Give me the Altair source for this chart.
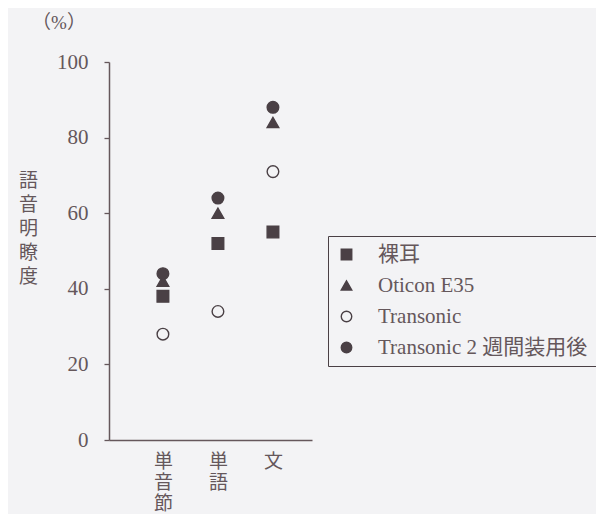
import altair as alt
import pandas as pd

categories = ["単音節", "単語", "文"]
series = ["裸耳", "Oticon E35", "Transonic", "Transonic 2 週間装用後"]
values_hadaka = [38, 52, 55]
values_oticon = [42, 60, 84]
values_transonic = [28, 34, 71]
values_transonic2w = [44, 64, 88]
y_ticks = [0, 20, 40, 60, 80, 100]

rows = []
for s, vals in zip(series, [values_hadaka, values_oticon, values_transonic, values_transonic2w]):
    for c, v in zip(categories, vals):
        rows.append({"cat": c, "series": s, "value": v})
df = pd.DataFrame(rows)

INK = "#4a4045"
AXIS = "#65575b"
BG = "#f3f3f5"
FONT = "Liberation Serif, Noto Sans CJK JP"
FS = 19

points = alt.Chart(df).mark_point(filled=False, strokeWidth=1.4, size=135, opacity=1).encode(
    x=alt.X("cat:N", sort=categories,
            scale=alt.Scale(type="point", padding=0.845, align=0.58),
            axis=alt.Axis(title=None, ticks=False, labelAngle=0, labelFont=FONT, labelFontSize=FS,
                          labelColor=AXIS, labelPadding=12, labelLineHeight=21,
                          labelExpr="split(datum.label, '')", domainColor=AXIS, domainWidth=1.5,
                          labelBaseline="top")),
    y=alt.Y("value:Q", scale=alt.Scale(domain=[0, 100]),
            axis=alt.Axis(values=y_ticks, tickSize=5, tickColor=AXIS, tickWidth=1.3, domainColor=AXIS,
                          domainWidth=1.5, labelFont=FONT, labelFontSize=21, labelColor=AXIS,
                          labelPadding=16, grid=False,
                          title=["語", "音", "明", "瞭", "度"], titleAngle=0, titleFont=FONT,
                          titleFontSize=FS, titleFontWeight="normal", titleColor=AXIS,
                          titleLineHeight=24, titleX=-81, titleY=118, titleAlign="center",
                          titleBaseline="middle")),
    shape=alt.Shape("series:N", sort=series,
                    scale=alt.Scale(domain=series, range=["square", "triangle-up", "circle", "circle"]),
                    legend=alt.Legend(title=None, orient="none", legendX=219, legendY=174,
                                      strokeColor=INK, padding=8, rowPadding=9,
                                      labelFont=FONT, labelFontSize=21, labelColor=AXIS,
                                      labelOffset=21, symbolSize=110, symbolStrokeWidth=1.4,
                                      labelLimit=400)),
    fill=alt.Fill("series:N", sort=series,
                  scale=alt.Scale(domain=series, range=[INK, INK, BG, INK])),
    stroke=alt.value(INK),
)

label_pct = alt.Chart(pd.DataFrame({"t": ["（%）"]})).mark_text(
    font=FONT, fontSize=19, color=AXIS, align="center", baseline="middle"
).encode(x=alt.value(-50), y=alt.value(-39), text="t:N")

chart = alt.layer(points, label_pct).properties(
    width=203, height=378,
    background=BG,
    autosize=alt.AutoSizeParams(type="none"),
    padding={"left": 101, "top": 54, "right": 284, "bottom": 74},
).configure_view(stroke=None).configure_axis(grid=False)

chart.save("out.html", embed_options={"renderer": "svg", "actions": False})
